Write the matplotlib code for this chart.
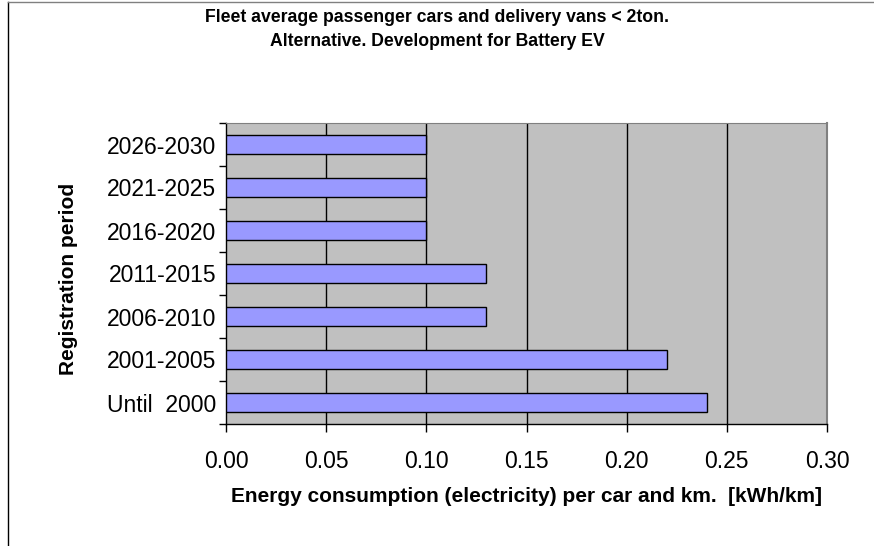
import matplotlib
matplotlib.use("Agg")
import matplotlib.pyplot as plt
import numpy as np
from matplotlib.lines import Line2D

plt.rcParams['font.family'] = ['Liberation Sans', 'DejaVu Sans']

categories = ["Until  2000", "2001-2005", "2006-2010", "2011-2015", "2016-2020", "2021-2025", "2026-2030"]
values = [0.24, 0.22, 0.13, 0.13, 0.10, 0.10, 0.10]
xticks = [0.00, 0.05, 0.10, 0.15, 0.20, 0.25, 0.30]

W, H = 874, 546
fig = plt.figure(figsize=(W/100, H/100), dpi=100)
L, R, T, B = 226, 827, 123, 424
ax = fig.add_axes([L/W, 1-B/H, (R-L)/W, (B-T)/H])
ax.set_facecolor('#C0C0C0')

y = np.arange(len(categories))
ax.barh(y, values, height=0.44, color='#9999FF', edgecolor='black', linewidth=1.0, zorder=3)

ax.set_xlim(0, 0.30)
ax.set_ylim(-0.5, len(categories) - 0.5)
ax.set_xticks(xticks)
ax.set_xticklabels([f"{v:.2f}" for v in xticks], fontsize=16.5)
for v in xticks[1:-1]:
    ax.axvline(v, color='black', linewidth=1.0, zorder=1)

ax.set_yticks(y)
ax.set_yticklabels(categories, fontsize=16.5)
ax.tick_params(axis='y', length=0, pad=7)
ax.set_yticks(np.arange(-0.5, len(categories)), minor=True)
ax.tick_params(axis='y', which='minor', length=5, width=1, direction='out')
ax.tick_params(axis='x', length=6, width=1, direction='out', pad=13)

for s in ['left', 'bottom']:
    ax.spines[s].set_color('black')
    ax.spines[s].set_linewidth(1.0)
ax.spines['top'].set_color('#808080')
ax.spines['right'].set_color('#808080')
ax.spines['right'].set_linewidth(1.5)

ax.set_xlabel("Energy consumption (electricity) per car and km.  [kWh/km]", fontsize=15, fontweight='bold', va='center')
ax.xaxis.set_label_coords(0.5, (B-497)/(B-T))
ax.set_ylabel("Registration period", fontsize=15, fontweight='bold', va='center')
ax.yaxis.set_label_coords((69-L)/(R-L), 0.5 - 5/(B-T))

fig.text(437/W, 1-18/H, "Fleet average passenger cars and delivery vans < 2ton.", ha='center', va='center', fontsize=12.7, fontweight='bold')
fig.text(437/W, 1-42/H, "Alternative. Development for Battery EV", ha='center', va='center', fontsize=12.7, fontweight='bold')

# chart border (left and top)
fig.add_artist(Line2D([8/W, 8/W], [0, 1-1.5/H], color='black', linewidth=1.0, transform=fig.transFigure))
fig.add_artist(Line2D([8/W, 1], [1-1.5/H, 1-1.5/H], color='#808080', linewidth=1.0, transform=fig.transFigure))

fig.savefig("out.png", dpi=100)
